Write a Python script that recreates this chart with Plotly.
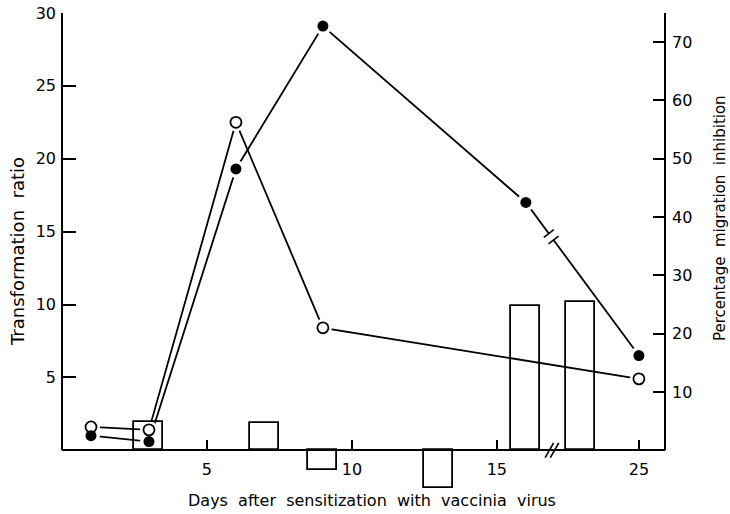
import plotly.graph_objects as go

# ---- data ----
open_days = [1, 3, 6, 9, 25]
open_ratio = [1.6, 1.4, 22.5, 8.4, 4.9]

filled_days = [1, 3, 6, 9, 16, 25]
filled_ratio = [1.0, 0.6, 19.3, 29.1, 17.0, 6.5]

bar_days = [3, 7, 9, 13, 16, 23]
bar_inhibition = [4.9, 4.7, -3.4, -6.4, 24.7, 25.5]

x_tick_days = [5, 10, 15, 25]
left_ticks = [5, 10, 15, 20, 25, 30]
right_ticks = [10, 20, 30, 40, 50, 60, 70]

# ---- broken x scale: days after the break are shifted left ----
BREAK_DAY = 17
BREAK_SHIFT = 5.1
BREAK_POS = 16.9


def xpos(d):
    return d if d <= BREAK_DAY else d - BREAK_SHIFT


FONT = "DejaVu Sans"
LW = 1.8

ox = [xpos(d) for d in open_days]
fx = [xpos(d) for d in filled_days]
bx = [xpos(d) for d in bar_days]

fig = go.Figure()

# bars (migration inhibition, right axis)
fig.add_trace(go.Bar(
    x=bx, y=bar_inhibition, yaxis="y2", width=1.0,
    marker=dict(color="rgba(0,0,0,0)", line=dict(color="black", width=LW)),
    showlegend=False, hoverinfo="skip"))

# lines
fig.add_trace(go.Scatter(x=ox, y=open_ratio, mode="lines",
                         line=dict(color="black", width=LW), showlegend=False))
fig.add_trace(go.Scatter(x=fx, y=filled_ratio, mode="lines",
                         line=dict(color="black", width=LW), showlegend=False))

# masks for gaps around markers
fig.add_trace(go.Scatter(x=ox + fx, y=open_ratio + filled_ratio, mode="markers",
                         marker=dict(symbol="circle", size=18, color="white",
                                     line=dict(width=0)),
                         showlegend=False, hoverinfo="skip"))

# break on the filled line between day 16 and day 25
i16 = filled_days.index(16)
x_a, y_a = fx[i16], filled_ratio[i16]
x_b, y_b = fx[i16 + 1], filled_ratio[i16 + 1]
t_mid, dt = 0.224, 0.021
bpx = [x_a + (x_b - x_a) * t for t in (t_mid - dt, t_mid + dt)]
bpy = [y_a + (y_b - y_a) * t for t in (t_mid - dt, t_mid + dt)]
fig.add_trace(go.Scatter(x=[x_a + (x_b - x_a) * t_mid], y=[y_a + (y_b - y_a) * t_mid],
                         mode="markers",
                         marker=dict(symbol="circle", size=7, color="white", line=dict(width=0)),
                         showlegend=False, hoverinfo="skip"))
fig.add_trace(go.Scatter(x=bpx, y=bpy, mode="markers",
                         marker=dict(symbol="line-ns", size=9, angle=52.6,
                                     line=dict(color="black", width=1.6)),
                         showlegend=False, hoverinfo="skip"))

# markers
fig.add_trace(go.Scatter(x=ox, y=open_ratio, mode="markers",
                         marker=dict(symbol="circle", size=11, color="white",
                                     line=dict(color="black", width=1.8)),
                         showlegend=False))
fig.add_trace(go.Scatter(x=fx, y=filled_ratio, mode="markers",
                         marker=dict(symbol="circle", size=11, color="black",
                                     line=dict(width=0)),
                         showlegend=False))

# x-axis break marks
fig.add_trace(go.Scatter(x=[BREAK_POS - 0.09, BREAK_POS + 0.09], y=[0, 0], mode="markers",
                         marker=dict(symbol="line-ns", size=12, angle=30,
                                     line=dict(color="black", width=1.6)),
                         showlegend=False, hoverinfo="skip"))

YMIN, YMAX = -3, 30
XMAX = 20.8
TICKSIZE = 16

fig.update_layout(
    width=730, height=514,
    margin=dict(l=62, r=65, t=13, b=20, autoexpand=False),
    paper_bgcolor="white", plot_bgcolor="white",
    font=dict(family=FONT, size=15, color="black"),
    showlegend=False,
    bargap=0,
    xaxis=dict(
        range=[0, XMAX], anchor="free", position=(0 - YMIN) / (YMAX - YMIN),
        showline=True, linecolor="black", linewidth=2, automargin=False,
        tickvals=[xpos(d) for d in x_tick_days], ticktext=[str(d) for d in x_tick_days],
        ticks="inside", ticklen=9, tickwidth=2, tickcolor="black",
        ticklabelstandoff=5,
        showgrid=False, zeroline=False,
        tickfont=dict(family=FONT, size=TICKSIZE),
    ),
    yaxis=dict(
        range=[YMIN, YMAX], showline=False, automargin=False,
        tickvals=left_ticks, ticks="inside", ticklen=14, tickwidth=2, tickcolor="black",
        ticklabelstandoff=5,
        showgrid=False, zeroline=False,
        tickfont=dict(family=FONT, size=TICKSIZE),
    ),
    yaxis2=dict(
        range=[YMIN * 2.5, YMAX * 2.5], overlaying="y", side="right", showline=False,
        automargin=False,
        tickvals=right_ticks, ticks="inside", ticklen=12, tickwidth=2, tickcolor="black",
        ticklabelstandoff=6,
        showgrid=False, zeroline=False,
        tickfont=dict(family=FONT, size=TICKSIZE),
    ),
    shapes=[
        dict(type="line", xref="paper", yref="y", x0=0, x1=0, y0=0, y1=YMAX,
             line=dict(color="black", width=2)),
        dict(type="line", xref="paper", yref="y", x0=1, x1=1, y0=0, y1=YMAX,
             line=dict(color="black", width=2)),
    ],
    annotations=[
        dict(text="Days  after  sensitization  with  vaccinia  virus", xref="paper", yref="paper",
             x=(372 - 62) / 603, y=(494 - 500) / 481, xanchor="center", yanchor="middle",
             showarrow=False, font=dict(family=FONT, size=16)),
        dict(text="Transformation  ratio", xref="paper", yref="paper",
             x=(17 - 62) / 603, y=(494 - 252) / 481, xanchor="center", yanchor="middle",
             textangle=-90, showarrow=False, font=dict(family=FONT, size=18)),
        dict(text="Percentage  migration  inhibition", xref="paper", yref="paper",
             x=(720 - 62) / 603, y=(494 - 218) / 481, xanchor="center", yanchor="middle",
             textangle=-90, showarrow=False, font=dict(family=FONT, size=15)),
    ],
)

fig.write_html("out.html", config={"displayModeBar": False},
               post_script="document.body.style.margin='0';")
